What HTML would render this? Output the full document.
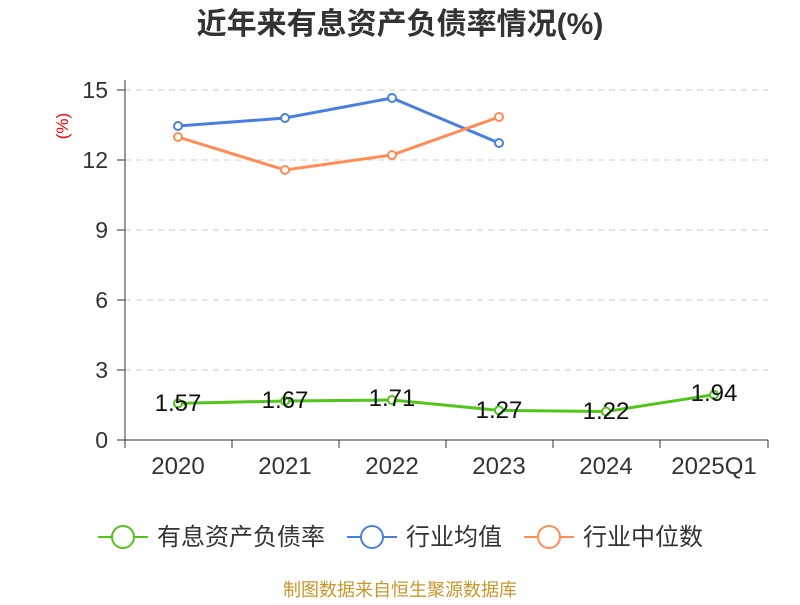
<!DOCTYPE html>
<html><head><meta charset="utf-8"><style>
body{margin:0;background:#fff;}
svg text{font-family:"Liberation Sans","Noto Sans CJK SC",sans-serif;}
</style></head><body>
<svg width="800" height="600" xmlns="http://www.w3.org/2000/svg">
<text x="400" y="34" text-anchor="middle" font-size="30" font-weight="bold" fill="#333">近年来有息资产负债率情况(%)</text>
<text x="68" y="126" font-size="17" fill="#e00" transform="rotate(-90 68 126)" text-anchor="middle">(%)</text>
<g stroke="#ccc" stroke-dasharray="6,5" stroke-width="1">
<line x1="125" y1="90" x2="768" y2="90"/><line x1="125" y1="160" x2="768" y2="160"/>
<line x1="125" y1="230" x2="768" y2="230"/><line x1="125" y1="300" x2="768" y2="300"/>
<line x1="125" y1="370" x2="768" y2="370"/></g>
<g stroke="#333" stroke-width="1">
<line x1="125" y1="80" x2="125" y2="440"/><line x1="125" y1="440" x2="768" y2="440"/>
<line x1="117" y1="90" x2="125" y2="90"/><line x1="117" y1="160" x2="125" y2="160"/><line x1="117" y1="230" x2="125" y2="230"/><line x1="117" y1="300" x2="125" y2="300"/><line x1="117" y1="370" x2="125" y2="370"/><line x1="117" y1="440" x2="125" y2="440"/>
<line x1="125" y1="440" x2="125" y2="448"/><line x1="232" y1="440" x2="232" y2="448"/><line x1="339" y1="440" x2="339" y2="448"/><line x1="446" y1="440" x2="446" y2="448"/><line x1="553" y1="440" x2="553" y2="448"/><line x1="660" y1="440" x2="660" y2="448"/><line x1="768" y1="440" x2="768" y2="448"/>
</g>
<g font-size="23" fill="#333" text-anchor="end">
<text x="108" y="98">15</text><text x="108" y="168">12</text><text x="108" y="238">9</text><text x="108" y="308">6</text><text x="108" y="378">3</text><text x="108" y="448">0</text></g>
<g font-size="24" fill="#333" text-anchor="middle">
<text x="178" y="474">2020</text><text x="285" y="474">2021</text><text x="392" y="474">2022</text><text x="499" y="474">2023</text><text x="606" y="474">2024</text><text x="714" y="474">2025Q1</text></g>
<g fill="#fff" stroke-width="2">
<polyline points="178,403.4 285,401 392,400 499,410.4 606,411.5 714,394.7" fill="none" stroke="#52c41a" stroke-width="3"/>
<polyline points="178,126 285,118 392,98 499,143" fill="none" stroke="#4a7fe0" stroke-width="3"/>
<polyline points="178,137 285,170 392,155 499,117" fill="none" stroke="#ff8c55" stroke-width="3"/>
<g stroke="#52c41a"><circle cx="178" cy="403.4" r="4"/><circle cx="285" cy="401" r="4"/><circle cx="392" cy="400" r="4"/><circle cx="499" cy="410.4" r="4"/><circle cx="606" cy="411.5" r="4"/><circle cx="714" cy="394.7" r="4"/></g>
<g stroke="#4a7fe0"><circle cx="178" cy="126" r="4"/><circle cx="285" cy="118" r="4"/><circle cx="392" cy="98" r="4"/><circle cx="499" cy="143" r="4"/></g>
<g stroke="#ff8c55"><circle cx="178" cy="137" r="4"/><circle cx="285" cy="170" r="4"/><circle cx="392" cy="155" r="4"/><circle cx="499" cy="117" r="4"/></g>
</g>
<g font-size="24" fill="#111" text-anchor="middle">
<text x="178" y="411">1.57</text><text x="285" y="408">1.67</text><text x="392" y="406">1.71</text><text x="499" y="418">1.27</text><text x="606" y="419">1.22</text><text x="714" y="401">1.94</text></g>
<g stroke-width="2" fill="#fff">
<line x1="98" y1="537" x2="148" y2="537" stroke="#52c41a"/><circle cx="123" cy="537" r="11" stroke="#52c41a"/>
<line x1="347" y1="537" x2="397" y2="537" stroke="#4a7fe0"/><circle cx="372" cy="537" r="11" stroke="#4a7fe0"/>
<line x1="524" y1="537" x2="574" y2="537" stroke="#ff8c55"/><circle cx="549" cy="537" r="11" stroke="#ff8c55"/>
</g>
<g font-size="24" fill="#333">
<text x="157" y="545">有息资产负债率</text><text x="406" y="545">行业均值</text><text x="583" y="545">行业中位数</text></g>
<text x="400" y="596" text-anchor="middle" font-size="18" fill="#c8962a">制图数据来自恒生聚源数据库</text>
</svg>
</body></html>
